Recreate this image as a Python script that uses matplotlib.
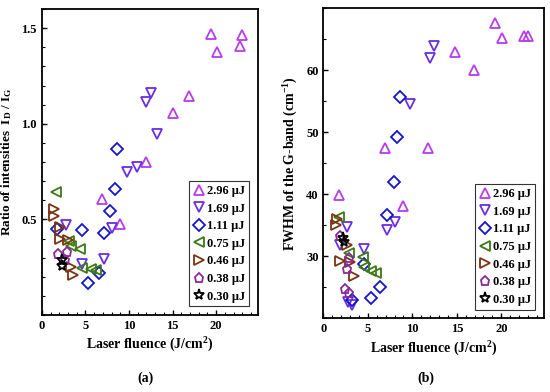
import matplotlib
matplotlib.use("Agg")
import matplotlib.pyplot as plt
from matplotlib.ticker import MultipleLocator, FixedLocator

plt.rcParams['font.family'] = ['Liberation Serif', 'DejaVu Serif']
plt.rcParams['font.weight'] = 'bold'
plt.rcParams['axes.labelweight'] = 'bold'
plt.rcParams['mathtext.fontset'] = 'custom'
plt.rcParams['mathtext.rm'] = 'Liberation Serif:bold'
plt.rcParams['mathtext.it'] = 'Liberation Serif:bold'
plt.rcParams['mathtext.bf'] = 'Liberation Serif:bold'
plt.rcParams['mathtext.default'] = 'bf'

labels = ['2.96 μJ', '1.69 μJ', '1.11 μJ', '0.75 μJ', '0.46 μJ', '0.38 μJ', '0.30 μJ']
markers = ['^', 'v', 'D', '<', '>', 'p', '*']
colors = ['#b83ce8', '#6a2ee0', '#1414cc', '#3c7a14', '#7a3412', '#8a2a9a', '#000000']

# (a) ratio of intensities ID/IG
ratio_x = [
    [19.4, 23.0, 22.7, 20.1, 16.9, 15.0, 12.0, 6.9, 8.95],
    [12.5, 12.0, 13.2, 10.9, 9.75, 8.0, 7.15, 4.6, 2.8],
    [8.6, 8.35, 7.85, 7.1, 4.65, 6.55, 5.35, 1.7],
    [1.65, 3.1, 3.4, 4.4, 4.6, 5.6, 6.2],
    [1.35, 1.35, 2.1, 2.1, 2.95, 3.4, 3.6],
    [1.9, 2.85, 2.7],
    [2.3, 2.3],
]
ratio_y = [
    [1.469, 1.465, 1.408, 1.373, 1.145, 1.055, 0.799, 0.605, 0.479],
    [1.163, 1.116, 0.948, 0.773, 0.747, 0.455, 0.294, 0.268, 0.472],
    [0.866, 0.661, 0.546, 0.432, 0.446, 0.222, 0.166, 0.45],
    [0.644, 0.39, 0.36, 0.345, 0.245, 0.24, 0.235],
    [0.555, 0.52, 0.46, 0.40, 0.395, 0.25, 0.21],
    [0.32, 0.33, 0.29],
    [0.29, 0.255],
]

# (b) FWHM of the G-band
fwhm_x = [
    [19.25, 20.1, 22.6, 23.0, 14.8, 16.9, 6.9, 11.8, 1.7, 8.9],
    [12.45, 11.95, 9.7, 7.15, 8.1, 2.6, 4.6, 1.9, 3.2, 2.8],
    [8.6, 8.3, 7.9, 7.2, 6.4, 5.3, 4.6, 3.2],
    [1.7, 2.9, 4.5, 4.6, 5.3, 5.9],
    [1.5, 1.4, 1.9, 2.7, 3.0, 3.4],
    [1.9, 2.9, 2.6, 2.4, 2.85],
    [2.2, 2.35],
]
fwhm_y = [
    [67.6, 65.2, 65.6, 65.5, 62.9, 60.0, 47.5, 47.5, 39.9, 38.1],
    [63.9, 61.9, 54.6, 34.2, 35.6, 34.7, 31.1, 31.9, 22.2, 22.6],
    [55.7, 49.3, 41.9, 36.6, 25.0, 23.2, 28.7, 23.0],
    [36.3, 30.5, 29.9, 28.3, 27.7, 27.3],
    [36.0, 35.1, 29.2, 31.8, 29.0, 26.9],
    [33.2, 29.7, 27.9, 24.8, 24.1],
    [32.9, 32.3],
]

fig = plt.figure(figsize=(5.5, 3.92), dpi=100)
ax1 = fig.add_axes([0.076, 0.196, 0.393, 0.781])
ax2 = fig.add_axes([0.588, 0.188, 0.401, 0.791])


def draw(ax, xs, ys):
    for x, y, m, c, lab in zip(xs, ys, markers, colors, labels):
        ms = 8 if m == '*' else 6.5
        ax.plot(x, y, linestyle='none', marker=m, markersize=ms, markerfacecolor='none',
                markeredgecolor=c, markeredgewidth=1.3, label=lab)
    ax.set_xlim(0, 24.8)
    ax.xaxis.set_major_locator(MultipleLocator(5))
    ax.xaxis.set_minor_locator(MultipleLocator(1))
    ax.tick_params(which='both', direction='in', labelsize=9, top=False, right=False)
    ax.tick_params(which='major', length=3.6, width=1)
    ax.tick_params(which='minor', length=2.2, width=0.8)
    for s in ax.spines.values():
        s.set_linewidth(1.3)
    ax.set_xlabel('Laser fluence (J/cm$^{2}$)', fontsize=10, labelpad=3)
    leg = ax.legend(loc='lower right', fontsize=9, frameon=True, fancybox=False,
                    handletextpad=0.15, borderpad=0.3, labelspacing=0.45,
                    handlelength=1.0, borderaxespad=0.7)
    leg.get_frame().set_edgecolor('black')
    leg.get_frame().set_linewidth(0.8)


draw(ax1, ratio_x, ratio_y)
ax1.set_ylim(0, 1.6)
ax1.yaxis.set_major_locator(FixedLocator([0.5, 1.0, 1.5]))
ax1.yaxis.set_minor_locator(MultipleLocator(0.1))
ax1.set_ylabel('Ratio of intensities  I$_{D}$ / I$_{G}$', fontsize=9.5, labelpad=5)

draw(ax2, fwhm_x, fwhm_y)
ax2.set_ylim(20, 70)
ax2.yaxis.set_major_locator(FixedLocator([30, 40, 50, 60]))
ax2.yaxis.set_minor_locator(MultipleLocator(5))
ax2.set_ylabel('FWHM of the G-band (cm$^{-1}$)', fontsize=10, labelpad=4)

fig.text(0.264, 0.035, '(a)', ha='center', va='center', fontsize=10)
fig.text(0.775, 0.035, '(b)', ha='center', va='center', fontsize=10)

fig.savefig('out.png', dpi=100)
